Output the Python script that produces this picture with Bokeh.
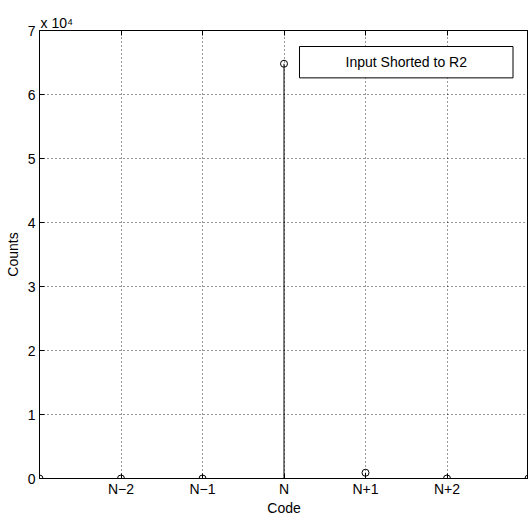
from bokeh.plotting import figure
from bokeh.models import LinearAxis, FixedTicker, BoxAnnotation, Label, Range1d, Title
from bokeh.embed import file_html
from bokeh.resources import INLINE

codes = [-3, -2, -1, 0, 1, 2, 3]
counts = [0, 0, 0, 64800, 900, 0, 0]
x_ticks = [-2, -1, 0, 1, 2]
x_tick_labels = ["N\u22122", "N\u22121", "N", "N+1", "N+2"]
y_ticks = [0, 10000, 20000, 30000, 40000, 50000, 60000, 70000]
y_tick_labels = ["0", "1", "2", "3", "4", "5", "6", "7"]
legend_text = "Input Shorted to R2"
scale_text = "x 10\u2074"

FONT = "Liberation Sans"

p = figure(width=528, height=518, output_backend="svg", toolbar_location=None,
           x_range=Range1d(-3, 3), y_range=Range1d(0, 70000),
           min_border_left=39, min_border_right=0, min_border_top=30, min_border_bottom=40,
           x_axis_label="Code", y_axis_label="Counts")
p.outline_line_color = "black"
p.outline_line_width = 1
p.background_fill_color = "white"
p.border_fill_color = "white"

for ax in (p.xaxis[0], p.yaxis[0]):
    ax.major_tick_in = 5
    ax.major_tick_out = 0
    ax.minor_tick_in = 0
    ax.minor_tick_out = 0
    ax.axis_line_color = "black"
    ax.major_label_text_font = FONT
    ax.major_label_text_font_size = "14px"
    ax.major_label_text_color = "black"
    ax.axis_label_text_font = FONT
    ax.axis_label_text_font_size = "14px"
    ax.axis_label_text_font_style = "normal"
    ax.axis_label_text_color = "black"

p.xaxis.ticker = FixedTicker(ticks=x_ticks)
p.xaxis.major_label_overrides = dict(zip(x_ticks, x_tick_labels))
p.xaxis.major_label_standoff = 2
p.xaxis.axis_label_standoff = 0
p.yaxis.ticker = FixedTicker(ticks=y_ticks)
p.yaxis.major_label_overrides = dict(zip(y_ticks, y_tick_labels))
p.yaxis.major_label_standoff = 4
p.yaxis.axis_label_standoff = 4

top = LinearAxis(ticker=FixedTicker(ticks=x_ticks), major_tick_in=5, major_tick_out=0,
                 minor_tick_in=0, minor_tick_out=0, major_label_text_font_size="0px",
                 major_label_standoff=0, axis_line_color="black")
top.major_label_overrides = {t: "" for t in x_ticks}
p.add_layout(top, "above")

p.add_layout(Title(text=scale_text, align="left", offset=1, standoff=0,
                   text_font=FONT, text_font_size="14px", text_font_style="normal",
                   text_color="black"), "above")

p.xgrid.ticker = FixedTicker(ticks=x_ticks)
p.ygrid.ticker = FixedTicker(ticks=y_ticks)
for g in (p.xgrid, p.ygrid):
    g.grid_line_color = "black"
    g.grid_line_dash = "1 3"
    g.grid_line_width = 1
    g.grid_line_alpha = 0.8

p.segment(x0=codes, y0=[0] * len(codes), x1=codes, y1=counts, line_color="black", line_width=1)
p.line(x=[codes[0], codes[-1]], y=[0, 0], line_color="black", line_width=1)
p.scatter(x=codes, y=counts, marker="circle", size=7, fill_color=None, line_color="black", line_width=1)

box = BoxAnnotation(left=0.19, right=2.81, bottom=62600, top=67500,
                    fill_color="white", fill_alpha=1, line_color="black", line_alpha=1, line_width=1)
p.add_layout(box)
p.add_layout(Label(x=1.5, y=65050, text=legend_text, text_font=FONT, text_font_size="14px",
                   text_align="center", text_baseline="middle", text_color="black"))

open("out.html", "w").write(file_html(p, INLINE))
